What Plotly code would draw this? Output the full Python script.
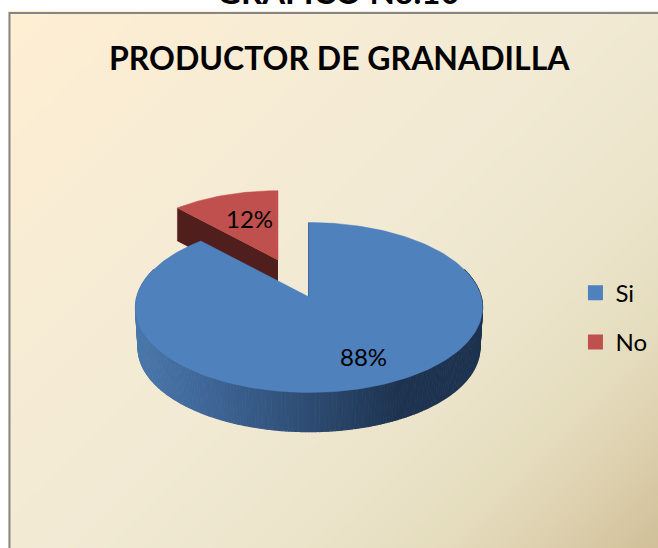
import numpy as np
import plotly.graph_objects as go

# Chart data
categories = ["Si", "No"]
shares = [88, 12]
slice_colors = ["#4f81bd", "#c0504d"]

chart_title = "PRODUCTOR DE GRANADILLA"
page_title = "GRÁFICO No.10"

W, H = 658, 548
FONT = "Lato, 'Noto Sans', sans-serif"

# Pie geometry in page pixels (perspective view of a disc)
CX, CY = 309, 297
FX, GY, K = 172.2, 83.7, 0.1235
RED_DX, RED_DY, RED_SCALE = -31, -37, 0.93
DEPTH_RED = 33
DEPTH_BLUE, RIM_SCALE = 40.6, 0.985


def project(theta, scale=1.0):
    """Clockwise angle from 12 o'clock -> offset from pie centre on screen."""
    sx, sy = np.sin(theta), np.cos(theta)
    d = 1 + K * sy
    return scale * FX * sx / d, -scale * GY * sy / d


def hex_mix(stops, t):
    xs = [s[0] for s in stops]
    rgb = [np.interp(t, xs, [int(s[1][i:i + 2], 16) for s in stops]) for i in (1, 3, 5)]
    return "rgb(%d,%d,%d)" % tuple(rgb)


split = 2 * np.pi * shares[0] / sum(shares)

fig = go.Figure()

# Parchment background
gx = np.linspace(8, W, 30)
gy = np.linspace(11, H, 30)
gz = (gx[None, :] + gy[:, None]) / (W + H)
fig.add_trace(go.Heatmap(
    x=gx, y=gy, z=gz, zmin=0, zmax=1, zsmooth="best", showscale=False, hoverinfo="skip",
    colorscale=[[0, "#ffefd3"], [0.25, "#f8ecd4"], [0.5, "#f2ead4"], [0.7, "#ebe4ca"],
                [0.82, "#e5dcbd"], [0.92, "#dbcdaa"], [1, "#d0bf98"]],
))

# Exploded "No" slice: cut face then top
red_arc = np.linspace(split, 2 * np.pi, 40)
rx, ry = project(red_arc, RED_SCALE)
rx, ry = rx + CX + RED_DX, ry + CY + RED_DY
apex_x, apex_y = CX + RED_DX, CY + RED_DY
fig.add_trace(go.Scatter(
    x=[apex_x, rx[0], rx[0], apex_x], y=[apex_y, ry[0], ry[0] + DEPTH_RED, apex_y + DEPTH_RED],
    mode="lines", fill="toself", fillcolor="#4f1e1d", line=dict(color="#4f1e1d", width=0.5),
    showlegend=False, hoverinfo="skip",
))
fig.add_trace(go.Scatter(
    x=np.r_[apex_x, rx, apex_x], y=np.r_[apex_y, ry, apex_y],
    mode="lines", fill="toself", fillcolor=slice_colors[1], line=dict(color=slice_colors[1], width=0.5),
    showlegend=False, hoverinfo="skip",
))

# "Si" slice: shaded rim, drawn strip by strip
wall_stops = [(137, "#4a78ab"), (200, "#40689a"), (300, "#2f4f76"), (400, "#1e3350"), (480, "#1e3350")]
rim = np.linspace(np.radians(70), np.radians(290), 221)
for a, b in zip(rim[:-1], rim[1:]):
    ax, ay = project(a)
    bx, by = project(b)
    lax, lay = project(a, RIM_SCALE)
    lbx, lby = project(b, RIM_SCALE)
    col = hex_mix(wall_stops, CX + (ax + bx) / 2)
    fig.add_trace(go.Scatter(
        x=[CX + ax, CX + bx, CX + lbx, CX + lax],
        y=[CY + ay, CY + by, CY + DEPTH_BLUE + lby, CY + DEPTH_BLUE + lay],
        mode="lines", fill="toself", fillcolor=col, line=dict(color=col, width=1.2),
        showlegend=False, hoverinfo="skip",
    ))

blue_arc = np.linspace(0, split, 240)
bx, by = project(blue_arc)
# thin sliver of the cut face along the 12 o'clock edge
fig.add_trace(go.Scatter(
    x=[CX - 0.5, CX - 0.5], y=[CY + by[0], CY], mode="lines",
    line=dict(color="#3b6391", width=1), showlegend=False, hoverinfo="skip",
))
fig.add_trace(go.Scatter(
    x=np.r_[CX, CX + bx, CX], y=np.r_[CY, CY + by, CY],
    mode="lines", fill="toself", fillcolor=slice_colors[0], line=dict(color=slice_colors[0], width=0.5),
    showlegend=False, hoverinfo="skip",
))

# Legend entries
for i, name in enumerate(categories):
    fig.add_trace(go.Scatter(
        x=[None], y=[None], mode="markers", name=name, legendgroup=name,
        marker=dict(symbol="square", size=15, color=slice_colors[i]),
    ))

# Data labels
fig.add_annotation(x=363, y=356, text=f"{shares[0]}%", showarrow=False, font=dict(size=24, color="black"))
fig.add_annotation(x=249, y=218, text=f"{shares[1]}%", showarrow=False, font=dict(size=24, color="black"))

# Title and the cut-off heading above the chart
fig.add_annotation(x=339, y=57, text=f"<b>{chart_title}</b>", showarrow=False, font=dict(size=32, color="black"))
fig.add_annotation(x=338, y=1, yref="paper", yanchor="bottom", yshift=-2,
                   text=f"<b>{page_title}</b>", showarrow=False, font=dict(size=33, color="black"))

# Chart frame, only its top and left edges fall on the page
fig.add_shape(type="rect", x0=9.5, y0=13, x1=W + 20, y1=H + 20, line=dict(color="#868686", width=2))

fig.update_xaxes(range=[8, W], visible=False, fixedrange=True)
fig.update_yaxes(range=[H, 11], visible=False, fixedrange=True)
fig.update_layout(
    width=W, height=H,
    margin=dict(l=8, r=0, t=11, b=0),
    paper_bgcolor="white",
    plot_bgcolor="rgba(0,0,0,0)",
    font=dict(family=FONT, color="black"),
    legend=dict(x=0.873, y=0.429, xanchor="left", yanchor="middle",
                bgcolor="rgba(0,0,0,0)", font=dict(size=24), tracegroupgap=15),
)

# the page has a default body margin that would push the chart off the window
fig.write_html("out.html", config=dict(displayModeBar=False),
               post_script="document.body.style.margin='0';")
